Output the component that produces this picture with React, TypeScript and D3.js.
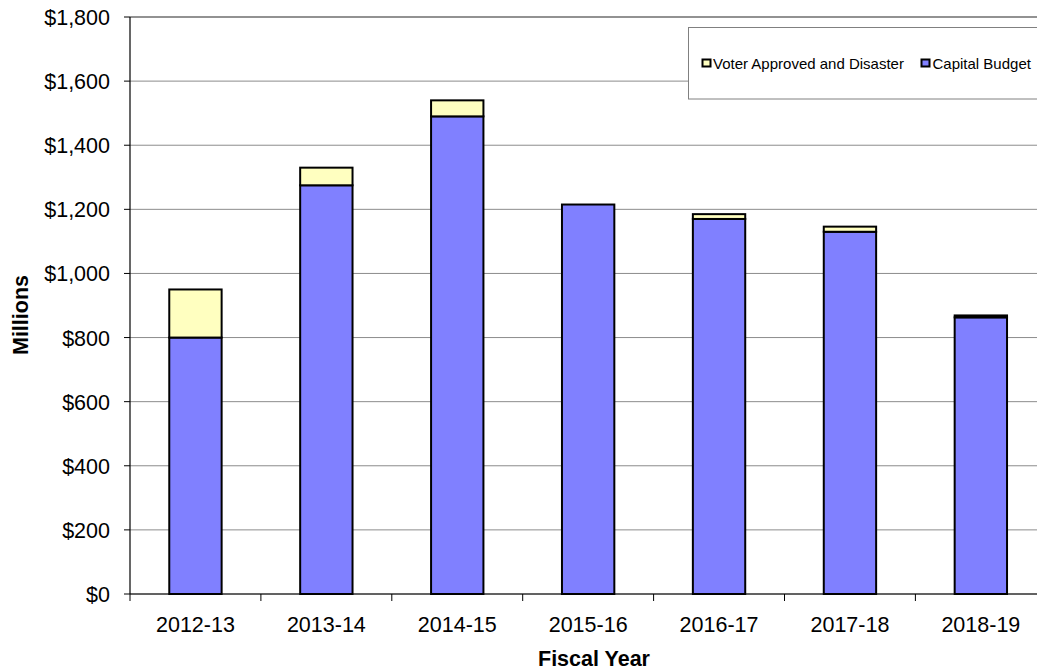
import React from "react";
import * as d3 from "d3";

const years = ["2012-13", "2013-14", "2014-15", "2015-16", "2016-17", "2017-18", "2018-19"];
const capitalBudget = [800, 1275, 1490, 1215, 1170, 1130, 863];
const voterDisaster = [150, 55, 50, 0, 15, 16, 6];
const yTicks = [0, 200, 400, 600, 800, 1000, 1200, 1400, 1600, 1800];
const seriesNames = ["Voter Approved and Disaster", "Capital Budget"];

const W = 1037;
const H = 671;
const left = 130;
const right = 1046.3;
const top = 17;
const bottom = 594;
const FONT = "'Liberation Sans', Arial, Helvetica, sans-serif";
const BLUE = "#8080FF";
const YELLOW = "#FFFFC0";

export default function App() {
  const x = d3.scaleBand<string>().domain(years).range([left, right]).paddingInner(0.6).paddingOuter(0.3);
  const xStep = d3.scaleBand<string>().domain(years).range([left, right]).padding(0);
  const y = d3.scaleLinear().domain([0, 1800]).range([bottom, top]);
  const fmt = (v: number) => "$" + d3.format(",")(v);

  const rows = years.map((yr, i) => ({ yr, cap: capitalBudget[i], vot: voterDisaster[i] }));

  return (
    <svg width={W} height={H} style={{ position: "absolute", left: 0, top: 0, background: "#fff" }} fontFamily={FONT}>
      {/* gridlines */}
      {yTicks.map((t) => (
        <line key={"g" + t} x1={left} x2={right} y1={y(t)} y2={y(t)} stroke="#8c8c8c" strokeWidth={1} />
      ))}
      {/* top plot border */}
      <line x1={left} x2={right} y1={top} y2={top} stroke="#808080" strokeWidth={1.5} />
      {/* bars */}
      {rows.map((r) => (
        <g key={r.yr}>
          <rect x={x(r.yr)} y={y(r.cap)} width={x.bandwidth()} height={y(0) - y(r.cap)} fill={BLUE} stroke="#000" strokeWidth={2} />
          {r.vot > 0 && (
            <rect x={x(r.yr)} y={y(r.cap + r.vot)} width={x.bandwidth()} height={y(r.cap) - y(r.cap + r.vot)} fill={YELLOW} stroke="#000" strokeWidth={2} />
          )}
        </g>
      ))}
      {/* axes */}
      <line x1={left} x2={left} y1={top} y2={bottom} stroke="#000" strokeWidth={1.2} />
      <line x1={left} x2={right} y1={bottom} y2={bottom} stroke="#000" strokeWidth={1.2} />
      {yTicks.map((t) => (
        <g key={"yt" + t}>
          <line x1={left - 6} x2={left} y1={y(t)} y2={y(t)} stroke="#000" strokeWidth={1} />
          <text x={110} y={y(t) + 8} textAnchor="end" fontSize={21.5} fill="#000">{fmt(t)}</text>
        </g>
      ))}
      {years.map((yr) => (
        <line key={"xt" + yr} x1={(xStep(yr) as number)} x2={(xStep(yr) as number)} y1={bottom} y2={bottom + 7} stroke="#000" strokeWidth={1} />
      ))}
      <line x1={right} x2={right} y1={bottom} y2={bottom + 7} stroke="#000" strokeWidth={1} />
      {years.map((yr) => (
        <text key={"xl" + yr} x={(x(yr) as number) + x.bandwidth() / 2} y={632} textAnchor="middle" fontSize={21.5} fill="#000">{yr}</text>
      ))}
      {/* axis titles */}
      <text x={594} y={666} textAnchor="middle" fontSize={21.5} fontWeight="bold" fill="#000">Fiscal Year</text>
      <text transform={`translate(28,315) rotate(-90)`} textAnchor="middle" fontSize={21.5} fontWeight="bold" fill="#000">Millions</text>
      {/* legend */}
      <rect x={688.5} y={27.5} width={380} height={71.5} fill="#fff" stroke="#808080" strokeWidth={1} />
      <rect x={702.5} y={59.5} width={8} height={7} fill={YELLOW} stroke="#000" strokeWidth={2} />
      <text x={713} y={68.5} fontSize={15} fill="#000">{seriesNames[0]}</text>
      <rect x={921.5} y={59.5} width={8} height={7} fill={BLUE} stroke="#000" strokeWidth={2} />
      <text x={932.5} y={68.5} fontSize={15} fill="#000">{seriesNames[1]}</text>
    </svg>
  );
}
